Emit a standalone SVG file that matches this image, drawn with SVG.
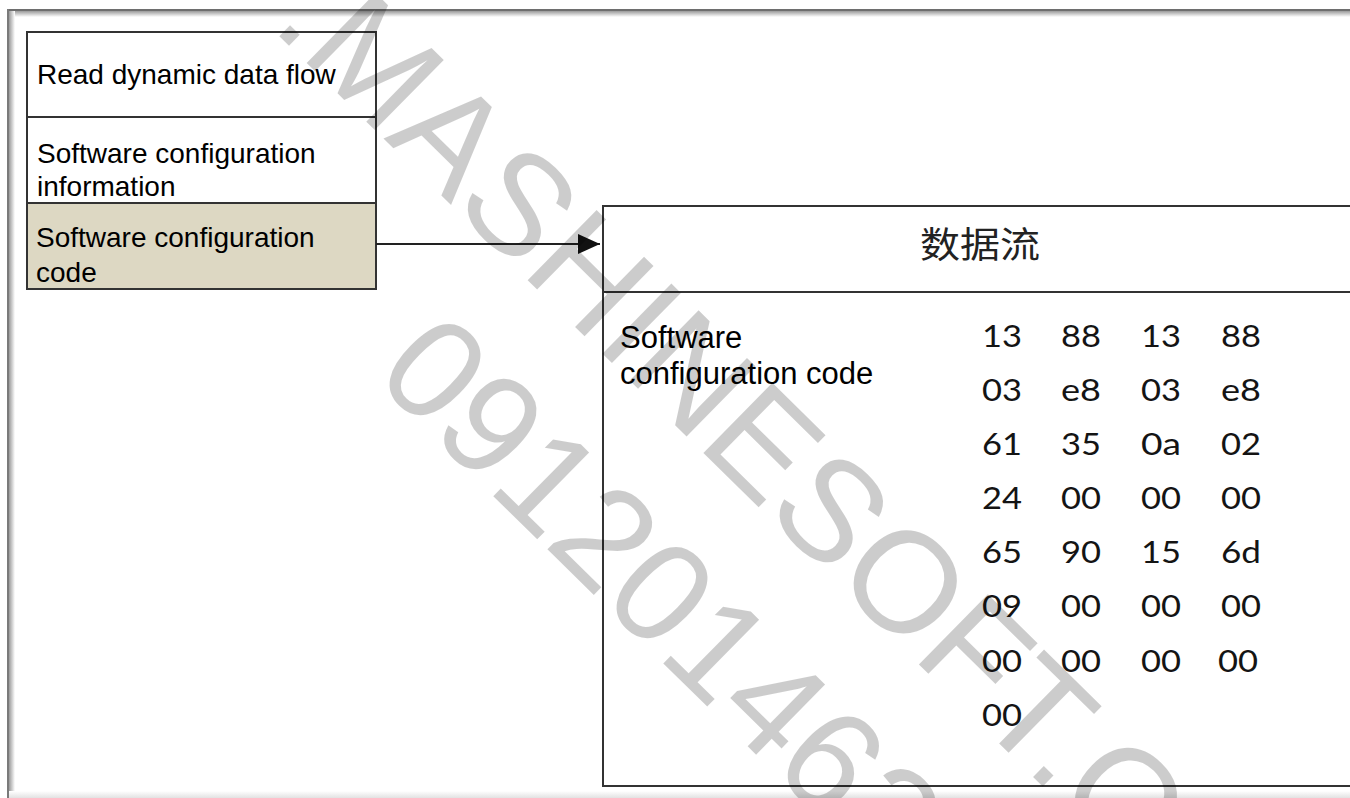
<svg xmlns="http://www.w3.org/2000/svg" width="1350" height="798" viewBox="0 0 1350 798">
  <defs>
    <style>
      .box { stroke: #333333; stroke-width: 2; }
      .lbl { font-family: "Liberation Sans", Arial, sans-serif; font-size: 28px; fill: #000000; }
      .lbl2 { font-family: "Liberation Sans", Arial, sans-serif; font-size: 31px; fill: #000000; }
      .cjk { font-family: "Noto Sans CJK SC", "Noto Sans", sans-serif; font-size: 36px; fill: #222222; }
      .hex { font-family: Lato, "Liberation Sans", sans-serif; font-size: 30px; fill: #141414; }
      .conn { stroke: #222222; stroke-width: 2; fill: none; }
      .wm { font-family: "Liberation Sans", Arial, sans-serif; font-size: 143px; fill: #000000; fill-opacity: 0.2; }
    </style>
    <linearGradient id="shadowTop" x1="0" y1="0" x2="0" y2="1">
      <stop offset="0" stop-color="#9a9a9a"/>
      <stop offset="1" stop-color="#ffffff"/>
    </linearGradient>
    <linearGradient id="shadowLeft" x1="0" y1="0" x2="1" y2="0">
      <stop offset="0" stop-color="#9a9a9a"/>
      <stop offset="1" stop-color="#ffffff"/>
    </linearGradient>
    <linearGradient id="shadowBottom" x1="0" y1="0" x2="0" y2="1">
      <stop offset="0" stop-color="#ffffff"/>
      <stop offset="1" stop-color="#e2e2e2"/>
    </linearGradient>
    <marker id="arrow" viewBox="0 0 22 20" refX="22" refY="10" markerWidth="22" markerHeight="20" markerUnits="userSpaceOnUse" orient="auto">
      <path d="M0,0 L22,10 L0,20 Z" fill="#111111"/>
    </marker>
  </defs>

  <rect x="0" y="0" width="1350" height="798" fill="#ffffff"/>

  <g id="frame">
    <rect x="9" y="11" width="1341" height="6" fill="url(#shadowTop)"/>
    <rect x="9" y="11" width="6" height="787" fill="url(#shadowLeft)"/>
    <rect x="7" y="9" width="1343" height="2" fill="#6e6e6e"/>
    <rect x="7" y="9" width="2" height="789" fill="#7a7a7a"/>
    <rect x="9" y="791" width="1341" height="7" fill="url(#shadowBottom)"/>
  </g>

  <g id="node-read-dynamic">
    <rect class="box" x="27" y="32" width="349" height="85" fill="#ffffff"/>
    <text class="lbl" x="37" y="84">Read dynamic data flow</text>
  </g>

  <g id="node-software-info">
    <rect class="box" x="27" y="117" width="349" height="86" fill="#ffffff"/>
    <text class="lbl" x="37" y="163">Software configuration</text>
    <text class="lbl" x="37" y="196">information</text>
  </g>

  <g id="node-software-code">
    <rect class="box" x="27" y="203" width="349" height="86" fill="#ddd8c3"/>
    <text class="lbl" x="36" y="247">Software configuration</text>
    <text class="lbl" x="36" y="282">code</text>
  </g>

  <g id="node-dataflow">
    <rect class="box" x="603" y="206" width="800" height="580" fill="none"/>
    <line class="box" x1="603" y1="292" x2="1350" y2="292"/>
    <text class="cjk" x="980" y="258" text-anchor="middle" textLength="120" lengthAdjust="spacingAndGlyphs">数据流</text>
    <text class="lbl2" x="620" y="348">Software</text>
    <text class="lbl2" x="620" y="384">configuration code</text>
    <g id="hex-values">
      <text class="hex" x="982" y="347" textLength="40" lengthAdjust="spacingAndGlyphs">13</text>
      <text class="hex" x="1061" y="347" textLength="40" lengthAdjust="spacingAndGlyphs">88</text>
      <text class="hex" x="1141" y="347" textLength="40" lengthAdjust="spacingAndGlyphs">13</text>
      <text class="hex" x="1221" y="347" textLength="40" lengthAdjust="spacingAndGlyphs">88</text>

      <text class="hex" x="982" y="401" textLength="40" lengthAdjust="spacingAndGlyphs">03</text>
      <text class="hex" x="1061" y="401" textLength="40" lengthAdjust="spacingAndGlyphs">e8</text>
      <text class="hex" x="1141" y="401" textLength="40" lengthAdjust="spacingAndGlyphs">03</text>
      <text class="hex" x="1221" y="401" textLength="40" lengthAdjust="spacingAndGlyphs">e8</text>

      <text class="hex" x="982" y="455" textLength="40" lengthAdjust="spacingAndGlyphs">61</text>
      <text class="hex" x="1061" y="455" textLength="40" lengthAdjust="spacingAndGlyphs">35</text>
      <text class="hex" x="1141" y="455" textLength="40" lengthAdjust="spacingAndGlyphs">0a</text>
      <text class="hex" x="1221" y="455" textLength="40" lengthAdjust="spacingAndGlyphs">02</text>

      <text class="hex" x="982" y="509" textLength="40" lengthAdjust="spacingAndGlyphs">24</text>
      <text class="hex" x="1061" y="509" textLength="40" lengthAdjust="spacingAndGlyphs">00</text>
      <text class="hex" x="1141" y="509" textLength="40" lengthAdjust="spacingAndGlyphs">00</text>
      <text class="hex" x="1221" y="509" textLength="40" lengthAdjust="spacingAndGlyphs">00</text>

      <text class="hex" x="982" y="563" textLength="40" lengthAdjust="spacingAndGlyphs">65</text>
      <text class="hex" x="1061" y="563" textLength="40" lengthAdjust="spacingAndGlyphs">90</text>
      <text class="hex" x="1141" y="563" textLength="40" lengthAdjust="spacingAndGlyphs">15</text>
      <text class="hex" x="1221" y="563" textLength="40" lengthAdjust="spacingAndGlyphs">6d</text>

      <text class="hex" x="982" y="617" textLength="40" lengthAdjust="spacingAndGlyphs">09</text>
      <text class="hex" x="1061" y="617" textLength="40" lengthAdjust="spacingAndGlyphs">00</text>
      <text class="hex" x="1141" y="617" textLength="40" lengthAdjust="spacingAndGlyphs">00</text>
      <text class="hex" x="1221" y="617" textLength="40" lengthAdjust="spacingAndGlyphs">00</text>

      <text class="hex" x="982" y="672" textLength="40" lengthAdjust="spacingAndGlyphs">00</text>
      <text class="hex" x="1061" y="672" textLength="40" lengthAdjust="spacingAndGlyphs">00</text>
      <text class="hex" x="1141" y="672" textLength="40" lengthAdjust="spacingAndGlyphs">00</text>
      <text class="hex" x="1218" y="672" textLength="40" lengthAdjust="spacingAndGlyphs">00</text>

      <text class="hex" x="982" y="726" textLength="40" lengthAdjust="spacingAndGlyphs">00</text>
    </g>
  </g>

  <g id="connectors">
    <line class="conn" x1="376" y1="244" x2="600" y2="244" marker-end="url(#arrow)"/>
  </g>

  <g id="watermark">
    <text class="wm" transform="translate(270 27) rotate(44.5)">.MASHINESOFT.C</text>
    <text class="wm" transform="translate(372 377) rotate(44.5)">091201462</text>
  </g>
</svg>
